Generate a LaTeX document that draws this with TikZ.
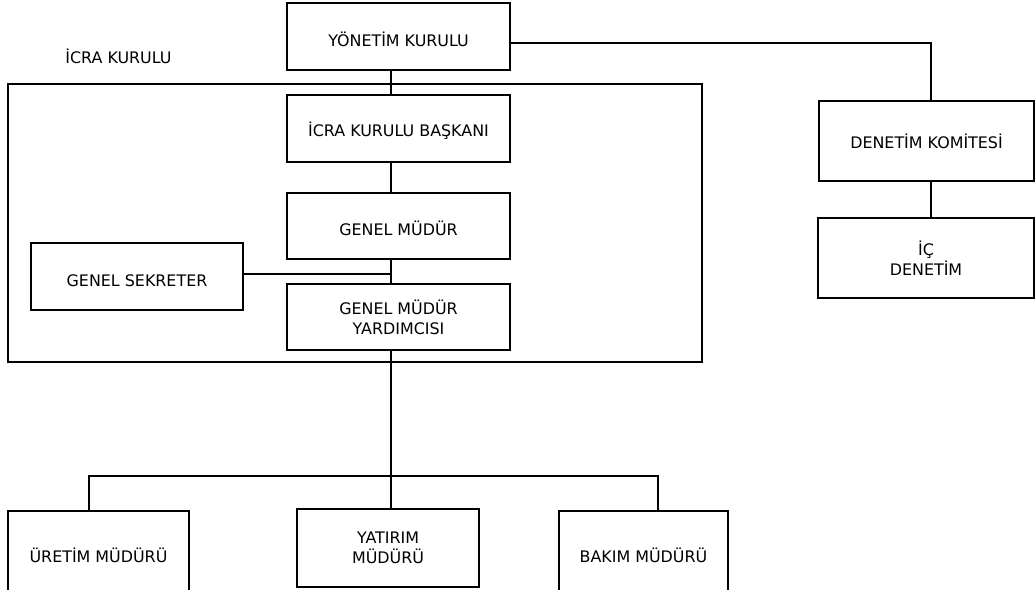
\documentclass[tikz,border=0pt]{standalone}
\usepackage{fontspec}
\setmainfont{DejaVu Sans}

\begin{document}
\begin{tikzpicture}[x=1pt, y=-1pt]
	\tikzstyle{box} = [draw, line width=2pt, align=center, inner sep=0pt, font=\fontsize{15.9}{20}\selectfont]
	\tikzstyle{link} = [line width=1.8pt]
	\useasboundingbox (0,0) rectangle (1036,589);
	% ust yonetim
	\node [box, minimum width=223pt, minimum height=67pt] (yonetim) at (398.5, 36.5) {\mbox{}\\YÖNETİM KURULU};
	\node [font=\fontsize{15.9}{20}\selectfont] (icralabel) at (118.5, 56) {İCRA KURULU};
	\draw [line width=2pt] (8, 84) rectangle (702, 362);
	\node [box, minimum width=223pt, minimum height=67pt] (baskan) at (398.5, 128.5) {\mbox{}\\İCRA KURULU BAŞKANI};
	\node [box, minimum width=223pt, minimum height=66pt] (genelmudur) at (398.5, 226) {\mbox{}\\GENEL MÜDÜR};
	\node [box, minimum width=223pt, minimum height=66pt] (yardimci) at (398.5, 317) {GENEL MÜDÜR\\YARDIMCISI};
	\node [box, minimum width=212pt, minimum height=67pt] (sekreter) at (137, 276.5) {\mbox{}\\GENEL SEKRETER};
	% denetim
	\node [box, minimum width=215pt, minimum height=80pt] (komite) at (926.5, 141) {DENETİM KOMİTESİ};
	\node [box, minimum width=216pt, minimum height=80pt] (icdenetim) at (926, 258) {İÇ\\DENETİM};
	% mudurler
	\node [box, minimum width=181pt, minimum height=88pt] (uretim) at (98.5, 555) {ÜRETİM MÜDÜRÜ};
	\node [box, minimum width=182pt, minimum height=78pt] (yatirim) at (388, 548) {YATIRIM\\MÜDÜRÜ};
	\node [box, minimum width=169pt, minimum height=88pt] (bakim) at (643.5, 555) {BAKIM MÜDÜRÜ};
	\coordinate (axis) at (391, 0);
	\coordinate (join) at (391, 274);
	\coordinate (bend) at (931, 43);
	\coordinate (busl) at (89, 476);
	\coordinate (busr) at (658, 476);
	\draw [link] (yonetim.south -| axis)--(baskan.north -| axis);
	\draw [link] (baskan.south -| axis)--(genelmudur.north -| axis);
	\draw [link] (genelmudur.south -| axis)--(yardimci.north -| axis);
	\draw [link] (sekreter.east |- join)--(join);
	\draw [link] (yardimci.south -| axis)--(yatirim.north -| axis);
	\draw [link] (busl |- uretim.north)--(busl)--(busr)--(busr |- bakim.north);
	\draw [link] (yonetim.east |- bend)--(bend)--(bend |- komite.north);
	\draw [link] (bend |- komite.south)--(bend |- icdenetim.north);
\end{tikzpicture}
\end{document}
